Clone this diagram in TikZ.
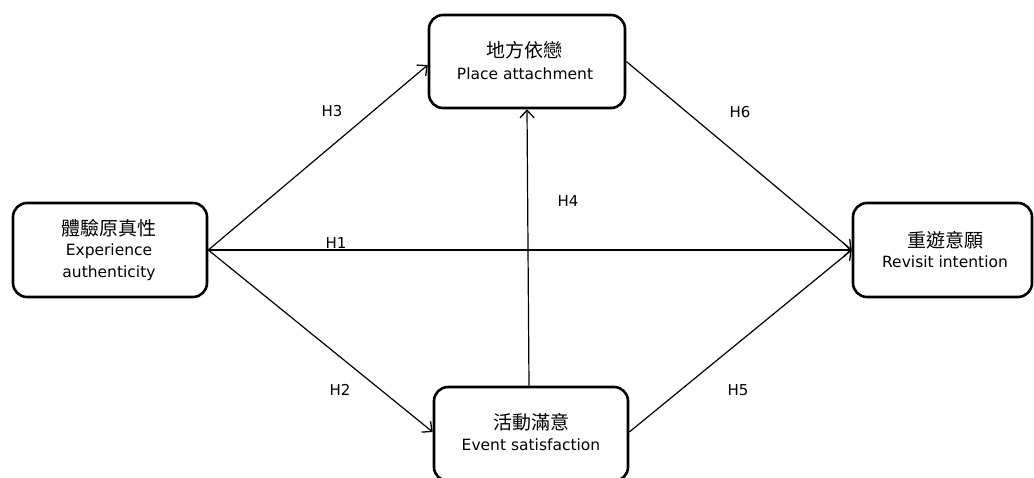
\documentclass[tikz,border=0pt]{standalone}
\usepackage{fontspec}
\setmainfont{DejaVu Sans}
\newfontfamily\cjk{Noto Sans CJK TC}
\usetikzlibrary{arrows.meta}
\begin{document}
\begin{tikzpicture}[x=1pt,y=-1pt,
  box/.style={draw=black,line width=2.6pt,rounded corners=14pt,fill=white,inner sep=0pt},
  zh/.style={inner sep=0pt,font=\cjk\fontsize{19}{22}\selectfont},
  en/.style={inner sep=0pt,font=\fontsize{15.5}{22}\selectfont},
  hl/.style={inner sep=0pt,font=\fontsize{15}{18}\selectfont},
  link/.style={draw=black,line width=1.2pt,-{Straight Barb[length=7.5pt,width=14pt,line width=1.3pt]}}]
\clip (0,0) rectangle (1034,477);
\fill[white] (0,0) rectangle (1034,477);
% boxes
\node[box,minimum width=194pt,minimum height=94pt] (L) at (110,250) {};
\node[box,minimum width=196pt,minimum height=93pt] (T) at (527,61.5) {};
\node[box,minimum width=194pt,minimum height=94pt] (B) at (531,434) {};
\node[box,minimum width=179pt,minimum height=94pt] (R) at (942.5,250) {};
% texts
\node[zh] (Lz) at (109,228) {體驗原真性};
\node[en] (Le1) at (109,251) {Experience};
\node[en] (Le2) at (109,273) {authenticity};
\node[zh] (Tz) at (524,50) {地方依戀};
\node[en] (Te) at (525,74) {Place attachment};
\node[zh] (Bz) at (531,422) {活動滿意};
\node[en] (Be) at (531,445) {Event satisfaction};
\node[zh] (Rz) at (945,240) {重遊意願};
\node[en] (Re) at (945,262) {Revisit intention};
% connectors
\draw[link] (L.east) -- ([yshift=-3.5pt]T.west);
\draw[link] (L.east) -- ([yshift=2pt]B.west);
\draw[link] (L.east) -- (R.west);
\draw[link] ([xshift=-2pt]B.north) -- (T.south);
\draw[link] (T.east) -- (R.west);
\draw[link] ([yshift=2pt]B.east) -- (R.west);
% labels
\node[hl] (h3) at (332,111) {H3};
\node[hl] (h1) at (336,243) {H1};
\node[hl] (h4) at (568,201) {H4};
\node[hl] (h6) at (740,112) {H6};
\node[hl] (h2) at (340,390) {H2};
\node[hl] (h5) at (738,390) {H5};
\end{tikzpicture}
\end{document}
